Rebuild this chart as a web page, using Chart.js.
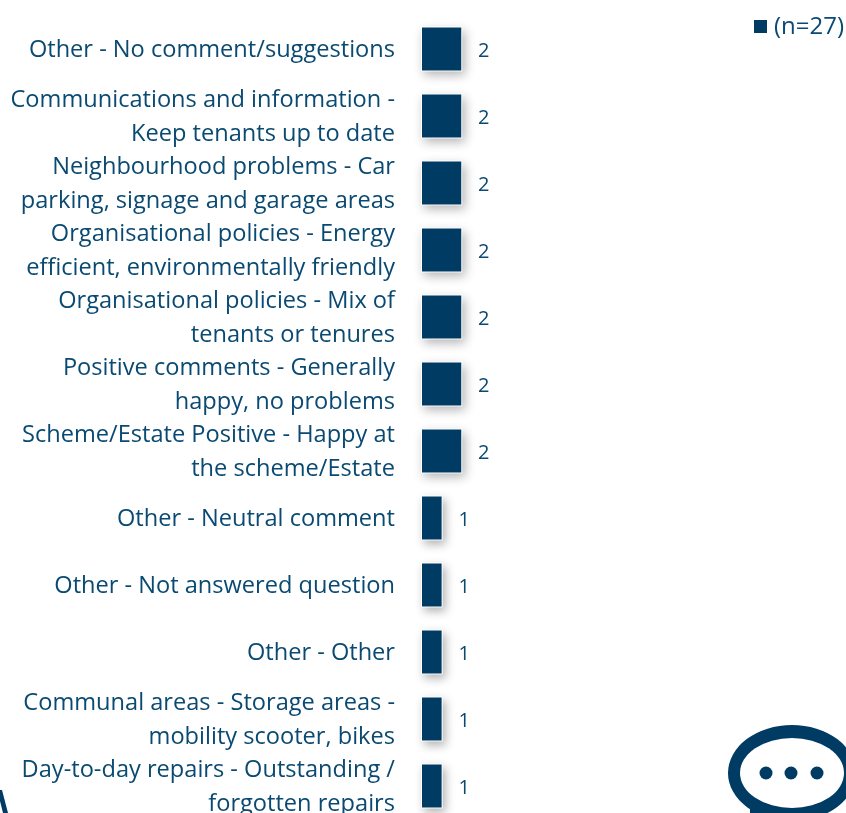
<!DOCTYPE html>
<html>
<head>
<meta charset="utf-8">
<style>
  html, body { margin: 0; padding: 0; background: #fff; overflow: hidden; }
  #wrap { width: 846px; height: 813px; overflow: hidden; }
</style>
<script src="https://cdn.jsdelivr.net/npm/chart.js@4/dist/chart.umd.min.js"></script>
</head>
<body>
<div id="wrap"><canvas id="chart_comments" width="846" height="830"></canvas></div>
<script>
const categories = [
  ['Other - No comment/suggestions'],
  ['Communications and information -', 'Keep tenants up to date'],
  ['Neighbourhood problems - Car', 'parking, signage and garage areas'],
  ['Organisational policies - Energy', 'efficient, environmentally friendly'],
  ['Organisational policies - Mix of', 'tenants or tenures'],
  ['Positive comments - Generally', 'happy, no problems'],
  ['Scheme/Estate Positive - Happy at', 'the scheme/Estate'],
  ['Other - Neutral comment'],
  ['Other - Not answered question'],
  ['Other - Other'],
  ['Communal areas - Storage areas -', 'mobility scooter, bikes'],
  ['Day-to-day repairs - Outstanding /', 'forgotten repairs'],
];
const seriesLabel = '(n=27)';
const seriesValues = [2, 2, 2, 2, 2, 2, 2, 1, 1, 1, 1, 1];

const navy = '#003b64';
const textColor = '#0a4a72';
const fontFamily = '"Open Sans", sans-serif';

// Soft shadow and thin white edge behind the bars
const barShadow = {
  id: 'barShadow',
  beforeDatasetsDraw(chart) {
    const ctx = chart.ctx;
    ctx.save();
    ctx.fillStyle = '#ffffff';
    ctx.shadowColor = 'rgba(0, 0, 0, 0.3)';
    ctx.shadowBlur = 10;
    ctx.shadowOffsetX = 3;
    ctx.shadowOffsetY = 4;
    chart.getDatasetMeta(0).data.forEach((bar) => {
      ctx.fillRect(bar.base - 1, bar.y - bar.height / 2 - 1, bar.x - bar.base + 2, bar.height + 2);
    });
    ctx.restore();
  },
};

// Nudge the category labels down a little, the scale has no option for it
const labelNudge = {
  id: 'labelNudge',
  beforeDraw(chart) {
    chart.scales.y.getLabelItems().forEach((item) => {
      item.options.translation[1] += 1.5;
    });
  },
};

// Value next to the end of each bar
const valueLabels = {
  id: 'valueLabels',
  afterDatasetsDraw(chart) {
    const ctx = chart.ctx;
    const meta = chart.getDatasetMeta(0);
    ctx.save();
    ctx.font = '20px ' + fontFamily;
    ctx.fillStyle = textColor;
    ctx.textAlign = 'center';
    ctx.textBaseline = 'middle';
    meta.data.forEach((bar, i) => {
      ctx.fillText(seriesValues[i], bar.x + 22.5, bar.y + 2);
    });
    ctx.restore();
  },
};

// Legend sits over the top right corner of the plot, so it is drawn here
const cornerLegend = {
  id: 'cornerLegend',
  afterDraw(chart) {
    const ctx = chart.ctx;
    ctx.save();
    ctx.fillStyle = navy;
    ctx.fillRect(754, 20, 13, 13);
    ctx.font = '24px ' + fontFamily;
    ctx.fillStyle = textColor;
    ctx.textAlign = 'left';
    ctx.textBaseline = 'middle';
    ctx.fillText(chart.data.datasets[0].label, 774, 27);
    ctx.restore();
  },
};

// Page furniture around the chart: speech bubble and the clipped shape at bottom left
const decorations = {
  id: 'decorations',
  afterDraw(chart) {
    const ctx = chart.ctx;
    ctx.save();
    ctx.fillStyle = navy;
    ctx.beginPath();
    ctx.moveTo(750, 800);
    ctx.lineTo(775, 813);
    ctx.lineTo(750, 813);
    ctx.fill();
    ctx.beginPath();
    ctx.ellipse(792, 773, 64, 48, 0, 0, Math.PI * 2);
    ctx.fill();
    ctx.fillStyle = '#fff';
    ctx.beginPath();
    ctx.ellipse(792, 773, 52, 35, 0, 0, Math.PI * 2);
    ctx.fill();
    ctx.fillStyle = navy;
    [766, 791, 817].forEach((x) => {
      ctx.beginPath();
      ctx.arc(x, 773, 6.5, 0, Math.PI * 2);
      ctx.fill();
    });
    ctx.beginPath();
    ctx.moveTo(0, 790);
    ctx.lineTo(2, 790);
    ctx.lineTo(8, 813);
    ctx.lineTo(3, 813);
    ctx.lineTo(0, 801);
    ctx.fill();
    ctx.restore();
  },
};

new Chart(document.getElementById('chart_comments').getContext('2d'), {
  type: 'bar',
  data: {
    labels: categories,
    datasets: [
      {
        label: seriesLabel,
        data: seriesValues,
        backgroundColor: navy,
        borderWidth: 0,
        categoryPercentage: 1,
        barPercentage: 0.64,
      },
    ],
  },
  options: {
    indexAxis: 'y',
    responsive: false,
    animation: false,
    layout: { padding: { top: 15.5, bottom: 10.5, left: 0, right: 0 } },
    plugins: {
      tooltip: { enabled: false },
      legend: { display: false },
    },
    scales: {
      x: { display: false, min: 0, max: 21.6 },
      y: {
        // fixed gutter for the labels, and no extra room for the first and last label
        afterFit(scale) {
          scale.width = 422;
          scale.paddingTop = 0;
          scale.paddingBottom = 0;
        },
        border: { display: false },
        grid: { display: false, drawTicks: false },
        ticks: {
          padding: 27,
          color: textColor,
          autoSkip: false,
          font: { family: fontFamily, size: 23.6, lineHeight: 1.43 },
        },
      },
    },
  },
  plugins: [barShadow, labelNudge, valueLabels, cornerLegend, decorations],
});
</script>
</body>
</html>
